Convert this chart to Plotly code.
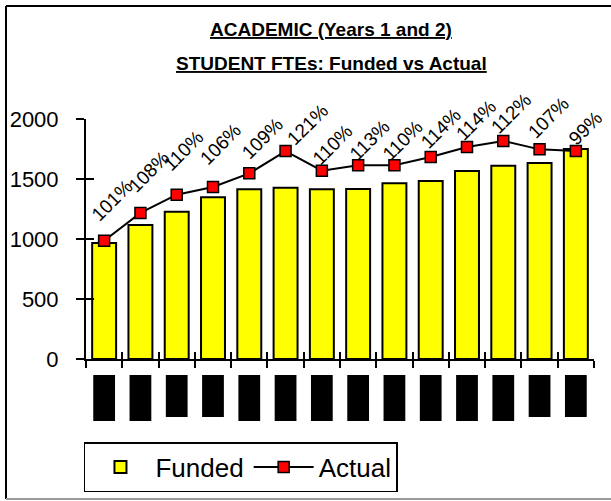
import plotly.graph_objects as go

YELLOW = "#FFFF00"
RED = "#FF0000"
BLACK = "#000000"
FONT = "Arial, Liberation Sans, sans-serif"

# data (x labels are redacted in the source)
periods = [f"P{i}" for i in range(1, 15)]
funded = [967, 1117, 1228, 1347, 1414, 1428, 1414, 1417, 1464, 1483, 1567, 1611, 1633, 1750]
actual = [986, 1217, 1369, 1433, 1547, 1733, 1569, 1614, 1614, 1683, 1767, 1817, 1747, 1733]
pct_labels = ["101%", "108%", "110%", "106%", "109%", "121%", "110%",
              "113%", "110%", "114%", "114%", "112%", "107%", "99%"]
long_label = [1, 1, 0, 0, 1, 1, 1, 1, 1, 1, 1, 1, 0, 0]
title_lines = ["ACADEMIC (Years 1 and 2)", "STUDENT FTEs: Funded vs Actual"]

# label offsets (px) as placed in the original chart
label_dx = [8, 9, 7, 7, 13, 22, 11, 11, 8, 10, 9, 8, 9, 9]
label_dy = [40, 41, 44, 43, 35, 27, 26, 25, 25, 29, 26, 27, 32, 23]

fig = go.Figure()

fig.add_trace(
    go.Bar(
        x=periods,
        y=funded,
        name="Funded",
        marker=dict(color=YELLOW, line=dict(color=BLACK, width=2)),
    )
)
fig.add_trace(
    go.Scatter(
        x=periods,
        y=actual,
        name="Actual",
        mode="lines+markers",
        line=dict(color=BLACK, width=2),
        marker=dict(symbol="square", size=11, color=RED, line=dict(color=BLACK, width=1.5)),
    )
)
# helper trace so the inside half of the cross ticks can be drawn
fig.add_trace(go.Scatter(x=[], y=[], xaxis="x2", yaxis="y2", showlegend=False, hoverinfo="skip"))

for p, a, txt, dx, dy in zip(periods, actual, pct_labels, label_dx, label_dy):
    fig.add_annotation(
        x=p, y=a, text=txt, showarrow=False,
        textangle=-45, xshift=dx, yshift=dy,
        font=dict(family=FONT, size=19, color=BLACK),
    )

for line, ypos in zip(title_lines, [1.372, 1.233]):
    fig.add_annotation(
        xref="paper", yref="paper", x=0.483, y=ypos,
        xanchor="center", yanchor="middle", showarrow=False,
        text=f"<b><u>{line}</u></b>",
        font=dict(family=FONT, size=19, color=BLACK),
    )

# redacted category labels
shapes = []
for i, tall in enumerate(long_label):
    shapes.append(dict(
        type="rect", xref="x", yref="paper",
        x0=i - 0.3, x1=i + 0.3, y0=-0.067, y1=-0.258 if tall else -0.242,
        fillcolor=BLACK, line=dict(width=0),
    ))

# chart frame
fx0, fx1, fy0, fy1 = -0.1575, 1.04, -0.583, 1.471
shapes += [
    dict(type="line", xref="paper", yref="paper", x0=fx0, x1=fx0, y0=fy0, y1=fy1,
         line=dict(color=BLACK, width=2)),
    dict(type="line", xref="paper", yref="paper", x0=fx0, x1=fx1, y0=fy1, y1=fy1,
         line=dict(color=BLACK, width=2)),
    dict(type="line", xref="paper", yref="paper", x0=fx0, x1=fx1, y0=fy0, y1=fy0,
         line=dict(color="#9a9a9a", width=2)),
]

n = len(periods)
fig.update_layout(
    width=611,
    height=501,
    margin=dict(l=86, r=17, t=119, b=142, autoexpand=False),
    paper_bgcolor="white",
    plot_bgcolor="white",
    font=dict(family=FONT, color=BLACK),
    bargap=0.34,
    xaxis=dict(
        type="category", range=[-0.5, n - 0.5],
        showticklabels=False,
        showline=True, linecolor=BLACK, linewidth=2,
        ticks="outside", tickson="boundaries", ticklen=7, tickwidth=2, tickcolor=BLACK,
        showgrid=False, zeroline=False,
    ),
    yaxis=dict(
        range=[0, 2000], tickvals=[0, 500, 1000, 1500, 2000],
        showline=True, linecolor=BLACK, linewidth=2,
        ticks="outside", ticklen=8, tickwidth=2, tickcolor=BLACK,
        ticklabelstandoff=13,
        tickfont=dict(family=FONT, size=22, color=BLACK),
        showgrid=False, zeroline=False,
    ),
    xaxis2=dict(
        overlaying="x", anchor="y2", range=[-0.5, n - 0.5],
        tickmode="linear", tick0=-0.5, dtick=1,
        ticks="inside", ticklen=7, tickwidth=2, tickcolor=BLACK,
        showticklabels=False, showline=False, showgrid=False, zeroline=False,
    ),
    yaxis2=dict(
        overlaying="y", anchor="x2", range=[0, 2000],
        tickvals=[0, 500, 1000, 1500, 2000],
        ticks="inside", ticklen=8, tickwidth=2, tickcolor=BLACK,
        showticklabels=False, showline=False, showgrid=False, zeroline=False,
    ),
    legend=dict(
        orientation="h", x=-0.004, xanchor="left", y=-0.346, yanchor="top",
        bordercolor=BLACK, borderwidth=1.5, bgcolor="white",
        itemwidth=60,
        font=dict(family=FONT, size=26, color=BLACK),
    ),
    shapes=shapes,
)

fig.write_html(
    "out.html",
    config={"displayModeBar": False},
    post_script="document.body.style.margin = '0';",
)
